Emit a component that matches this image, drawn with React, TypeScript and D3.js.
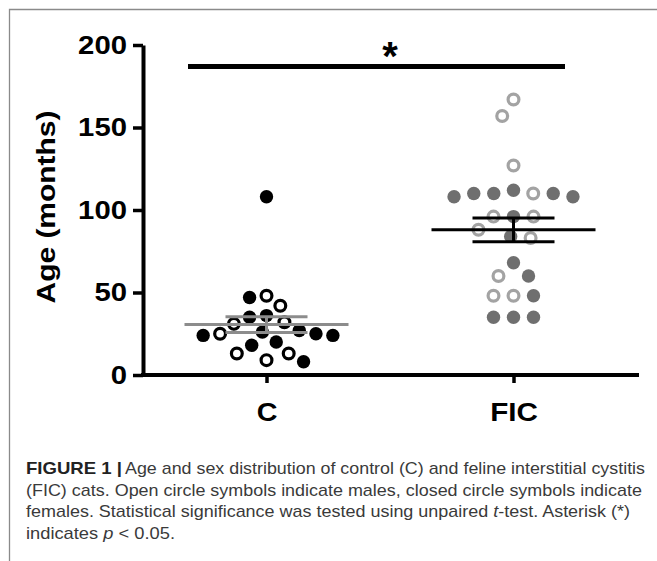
import React, { useRef, useEffect } from "react";
import { select, scaleLinear, scalePoint, axisLeft, axisBottom, mean, deviation } from "d3";

// ages (months), one entry per cat; sex: "m" = open circle, "f" = closed
const groups = ["C", "FIC"];
const cAges = [108, 48, 47, 42, 36, 35, 32, 31, 27, 26, 25, 25, 24, 24, 20, 18, 13, 13, 9, 8];
const cSex = ["f", "m", "f", "m", "f", "f", "m", "m", "f", "f", "m", "f", "f", "f", "f", "f", "m", "m", "m", "f"];
const ficAges = [167, 157, 127, 112, 110, 110, 110, 110, 108, 108, 96, 96, 96, 88, 84, 83, 68, 60, 60, 48, 48, 48, 35, 35, 35];
const ficSex = ["m", "m", "m", "f", "f", "m", "f", "f", "f", "f", "f", "m", "m", "m", "f", "m", "f", "m", "f", "m", "m", "f", "f", "f", "f"];
const yTicks = [0, 50, 100, 150, 200];
const sigLevel = 187; // height of the significance bar, in months

const W = 657;
const H = 561;

// simple beeswarm: each point goes as close to the group centre as it can without overlapping
function swarm(ys: number[], D: number) {
  const placed: { x: number; y: number }[] = [];
  return ys.map((y) => {
    const blocks = placed
      .filter((p) => Math.abs(p.y - y) < D)
      .map((p) => {
        const dx = Math.sqrt(D * D - (p.y - y) ** 2);
        return [p.x - dx, p.x + dx];
      });
    const cands = [0, ...blocks.flat()].sort((a, b) => Math.abs(a) - Math.abs(b) || a - b);
    const x = cands.find((c) => blocks.every(([lo, hi]) => c <= lo + 1e-6 || c >= hi - 1e-6)) ?? 0;
    placed.push({ x, y });
    return x;
  });
}

function App() {
  const svgRef = useRef<SVGSVGElement>(null);

  const y = scaleLinear().domain([0, 200]).range([375, 45]);
  const x = scalePoint().domain(groups).range([143, 637]).padding(0.5);

  useEffect(() => {
    const svg = select(svgRef.current);

    const yAxis = axisLeft(y).tickValues(yTicks).tickSize(10).tickSizeOuter(0).tickPadding(6);
    const gy = svg.select<SVGGElement>(".y-axis").attr("transform", "translate(143,0)").call(yAxis);
    gy.select(".domain").attr("stroke-width", 4).attr("stroke", "#000");
    gy.selectAll(".tick line").attr("stroke-width", 3.5);
    gy.selectAll<SVGTextElement, number>(".tick text")
      .attr("font-size", 25)
      .attr("font-weight", "bold")
      .attr("font-family", "Liberation Sans, Arial, sans-serif")
      .attr("fill", "#000")
      .attr("textLength", (d) => String(d).length * 16.3)
      .attr("lengthAdjust", "spacingAndGlyphs");

    const xAxis = axisBottom(x).tickSize(8).tickSizeOuter(0).tickPadding(10);
    const gx = svg.select<SVGGElement>(".x-axis").attr("transform", "translate(0,375)").call(xAxis);
    gx.select(".domain").attr("stroke-width", 4).attr("stroke", "#000").attr("d", "M141,0H639");
    gx.selectAll(".tick line").attr("stroke-width", 3.5);
    gx.selectAll<SVGTextElement, string>(".tick text")
      .attr("font-size", 25)
      .attr("font-weight", "bold")
      .attr("font-family", "Liberation Sans, Arial, sans-serif")
      .attr("fill", "#000")
      .attr("dy", "1.12em")
      .attr("textLength", (d) => (d === "C" ? 20.7 : 47.7))
      .attr("lengthAdjust", "spacingAndGlyphs");
  }, []);

  const series = [
    { key: "C", ages: cAges, sex: cSex, dot: "#000", ring: "#000", bar: "#8c8c8c", gap: 17 },
    { key: "FIC", ages: ficAges, sex: ficSex, dot: "#6f6f6f", ring: "#a3a3a3", bar: "#000", gap: 20 },
  ];

  return (
    <svg ref={svgRef} width={W} height={H} style={{ position: "absolute", left: 0, top: 0, background: "#fff" }}>
      {/* frame of the figure panel */}
      <path d={`M9.5,${H}V9.5H${W}`} fill="none" stroke="#8a8a8a" strokeWidth={1.3} />

      {/* y label */}
      <text
        transform="translate(55,207) rotate(-90)"
        textAnchor="middle"
        fontSize={25}
        fontWeight="bold"
        fontFamily="Liberation Sans, Arial, sans-serif"
        textLength={193}
        lengthAdjust="spacingAndGlyphs"
      >
        Age (months)
      </text>

      {series.map((s) => {
        const cx = x(s.key) as number;
        const xs = swarm(s.ages.map((a) => y(a)), s.gap);
        const m = mean(s.ages) as number;
        const sem = (deviation(s.ages) as number) / Math.sqrt(s.ages.length);
        return (
          <g key={s.key}>
            {s.ages.map((a, i) =>
              s.sex[i] === "m" ? (
                <circle key={i} cx={cx + xs[i]} cy={y(a)} r={5.4} fill="#fff" stroke={s.ring} strokeWidth={3.2} />
              ) : (
                <circle key={i} cx={cx + xs[i]} cy={y(a)} r={6.7} fill={s.dot} />
              )
            )}
            <g stroke={s.bar} strokeWidth={3}>
              <line x1={cx - 82} x2={cx + 82} y1={y(m)} y2={y(m)} />
              <line x1={cx} x2={cx} y1={y(m + sem)} y2={y(m - sem)} />
              <line x1={cx - 41} x2={cx + 41} y1={y(m + sem)} y2={y(m + sem)} />
              <line x1={cx - 41} x2={cx + 41} y1={y(m - sem)} y2={y(m - sem)} />
            </g>
          </g>
        );
      })}

      <g className="y-axis" />
      <g className="x-axis" />

      {/* significance bar */}
      <line
        x1={(x("C") as number) - 78.5}
        x2={(x("FIC") as number) + 51.5}
        y1={y(sigLevel)}
        y2={y(sigLevel)}
        stroke="#000"
        strokeWidth={5}
      />
      <text
        x={((x("C") as number) + (x("FIC") as number)) / 2}
        y={70}
        textAnchor="middle"
        fontSize={40}
        fontWeight="bold"
        fontFamily="Liberation Sans, Arial, sans-serif"
      >
        *
      </text>

      {/* caption */}
      <g fontFamily="Liberation Sans, Arial, sans-serif" fontSize={17} fill="#3a3a3a">
        <text x={26} y={474} textLength={96} lengthAdjust="spacingAndGlyphs" fontWeight="bold" fill="#222">
          FIGURE 1 |
        </text>
        <text x={125} y={474} textLength={520} lengthAdjust="spacingAndGlyphs">
          Age and sex distribution of control (C) and feline interstitial cystitis
        </text>
        <text x={26} y={495.5} textLength={616} lengthAdjust="spacingAndGlyphs">
          (FIC) cats. Open circle symbols indicate males, closed circle symbols indicate
        </text>
        <text x={26} y={517} textLength={604} lengthAdjust="spacingAndGlyphs">
          females. Statistical significance was tested using unpaired <tspan fontStyle="italic">t</tspan>-test. Asterisk (*)
        </text>
        <text x={26} y={538.5} textLength={149} lengthAdjust="spacingAndGlyphs">
          indicates <tspan fontStyle="italic">p</tspan> &lt; 0.05.
        </text>
      </g>
    </svg>
  );
}

export default App;
